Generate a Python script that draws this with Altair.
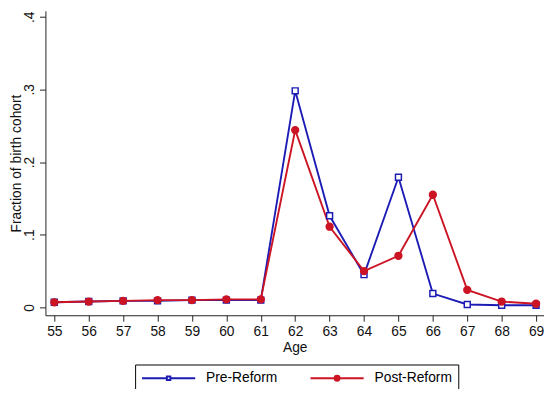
import altair as alt
import pandas as pd

ages = list(range(55, 70))
pre_reform = [0.007, 0.008, 0.009, 0.009, 0.010, 0.010, 0.010,
              0.298, 0.126, 0.045, 0.179, 0.019, 0.004, 0.003, 0.003]
post_reform = [0.007, 0.008, 0.009, 0.010, 0.010, 0.011, 0.011,
               0.244, 0.111, 0.050, 0.071, 0.155, 0.024, 0.008, 0.005]
series = ["Pre-Reform", "Post-Reform"]
y_ticks = [0, 0.1, 0.2, 0.3, 0.4]

rows = []
for a, v in zip(ages, pre_reform):
    rows.append({"age": a, "frac": v, "series": series[0]})
for a, v in zip(ages, post_reform):
    rows.append({"age": a, "frac": v, "series": series[1]})
df = pd.DataFrame(rows)

BLUE = "#1c1cb4"
RED = "#cc1424"
FONT = "Liberation Sans"

# legend symbols: line with marker in the middle (path units, scaled by 7px)
sq_path = ("M-1,0H2.607M3.107,0H6.714"
           "M2.607,-0.25H3.107V0.25H2.607Z")
ci_path = ("M-1,0H6.714"
           "M3.217,0A0.36,0.36 0 1,1 2.497,0A0.36,0.36 0 1,1 3.217,0Z")

x = alt.X("age:Q", title="Age",
          scale=alt.Scale(domain=[54.742, 69.23], nice=False, zero=False),
          axis=alt.Axis(values=ages, format="d", grid=False, tickSize=6,
                        labelPadding=4, titlePadding=2, labelFontSize=14,
                        titleFontSize=14, titleFontWeight="normal"))
y = alt.Y("frac:Q", title="Fraction of birth cohort",
          scale=alt.Scale(domain=[-0.01085, 0.40814], nice=False, zero=False),
          axis=alt.Axis(values=y_ticks, grid=False, tickSize=6, labelAngle=-90,
                        labelAlign="center", labelBaseline="bottom",
                        labelPadding=3, titlePadding=-0.5, labelFontSize=14,
                        titleFontSize=14, titleFontWeight="normal",
                        labelExpr="datum.value == 0 ? '0' : replace(format(datum.value, '.1f'), '0.', '.')"))

stroke = alt.Stroke("series:N", sort=series,
                    scale=alt.Scale(domain=series, range=[BLUE, RED]),
                    legend=alt.Legend(title=None, orient="none", direction="horizontal",
                                      legendX=91, legendY=359, strokeColor="black",
                                      fillColor="white", padding=6, cornerRadius=0,
                                      symbolSize=196, symbolStrokeWidth=2,
                                      symbolOpacity=1,
                                      labelFontSize=14, labelOffset=50,
                                      columnPadding=29, labelFont=FONT))
fill = alt.Fill("series:N", sort=series,
                scale=alt.Scale(domain=series, range=["white", RED]))

legend_layer = alt.Chart(df).transform_filter("false").mark_point(
    strokeWidth=2, opacity=1
).encode(
    x=x, y=y, stroke=stroke, fill=fill,
    shape=alt.Shape("series:N", sort=series,
                    scale=alt.Scale(domain=series, range=[sq_path, ci_path])),
)

lines = alt.Chart(df).mark_line(strokeWidth=1.9).encode(
    x=x, y=y, stroke=stroke,
    order=alt.Order("age:Q"),
    detail="series:N",
)

pre_pts = alt.Chart(df).transform_filter(
    alt.datum.series == series[0]
).mark_point(shape="square", size=36, strokeWidth=1.5, opacity=1).encode(
    x=x, y=y, stroke=stroke, fill=fill,
)
post_pts = alt.Chart(df).transform_filter(
    alt.datum.series == series[1]
).mark_point(shape="circle", size=48, strokeWidth=1.5, opacity=1).encode(
    x=x, y=y, stroke=stroke, fill=fill,
)

chart = alt.layer(legend_layer, lines, pre_pts, post_pts).properties(
    width=506, height=309,
    autosize=alt.AutoSizeParams(type="none"),
    padding={"left": 38, "top": 0, "right": 0, "bottom": 72},
).configure_view(stroke=None).configure_axis(
    domainColor="#222222", tickColor="#222222", labelColor="#111111",
    titleColor="#111111", labelFont=FONT, titleFont=FONT,
).configure_legend(labelFont=FONT)

chart.save("out.html", embed_options={"renderer": "svg", "actions": False})
